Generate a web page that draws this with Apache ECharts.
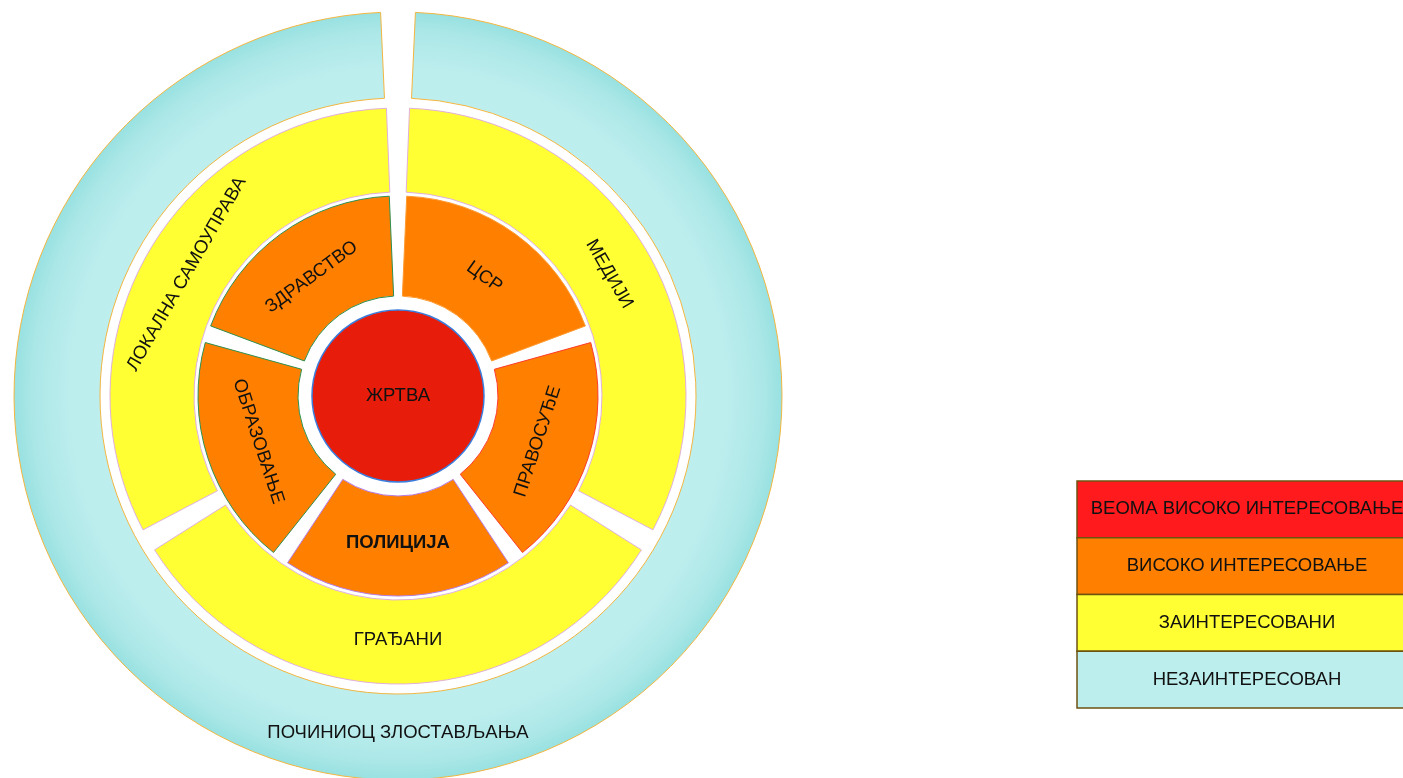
<!DOCTYPE html>
<html>
<head>
<meta charset="utf-8">
<script src="https://cdn.jsdelivr.net/npm/echarts@6/dist/echarts.min.js"></script>
<style>
  html, body { margin: 0; padding: 0; background: #ffffff; }
  #chart { width: 1403px; height: 778px; }
</style>
</head>
<body>
<div id="chart"></div>
<script>
// ---- data ----
const centerLabels = ['ЖРТВА'];
const centerValues = [1];
const innerRingLabels = ['ЦСР', 'ПРАВОСУЂЕ', 'ПОЛИЦИЈА', 'ОБРАЗОВАЊЕ', 'ЗДРАВСТВО'];
const innerRingValues = [1, 1, 1, 1, 1];
const middleRingLabels = ['МЕДИЈИ', 'ГРАЂАНИ', 'ЛОКАЛНА САМОУПРАВА'];
const middleRingValues = [1, 1, 1];
const outerRingLabels = ['ПОЧИНИОЦ ЗЛОСТАВЉАЊА'];
const outerRingValues = [1];
const legendLabels = ['ВЕОМА ВИСОКО ИНТЕРЕСОВАЊЕ', 'ВИСОКО ИНТЕРЕСОВАЊЕ', 'ЗАИНТЕРЕСОВАНИ', 'НЕЗАИНТЕРЕСОВАН'];

// ---- styles ----
const FONT = '"Liberation Sans", Arial, sans-serif';
const FS = 18.5;
const RED = '#e81c0a', ORANGE = '#ff8000', YELLOW = '#ffff33';
const legendColors = ['#ff1a1e', '#ff8000', '#ffff33', '#bdeeee'];
const innerBorders = ['#ff9a30', '#ff3a2a', '#b77ae0', '#2f8f4f', '#2f8f4f'];
const CX = 398, CY = 396;

const chart = echarts.init(document.getElementById('chart'), null, { renderer: 'canvas' });

const baseLabel = {
  show: true,
  position: 'inside',
  rotate: 'tangential',
  color: '#111111',
  fontFamily: FONT,
  fontSize: FS
};
const noLabel = { show: false };
const clear = { color: 'rgba(0,0,0,0)', borderWidth: 0 };

const cyanGradient = new echarts.graphic.RadialGradient(0.5, 0.5, 0.5, [
  { offset: 0, color: '#c2efef' },
  { offset: 0.85, color: '#bdeeee' },
  { offset: 0.95, color: '#ace7e7' },
  { offset: 1, color: '#98e1e1' }
]);

// legend built from arrays via graphic
const LX = 1077, LY = 481, LW = 340, LH = 56.75;
const legendGraphics = [];
legendLabels.forEach((t, i) => {
  legendGraphics.push({
    type: 'rect',
    shape: { x: LX, y: LY + i * LH, width: LW, height: LH },
    style: { fill: legendColors[i], stroke: '#6e5210', lineWidth: 1.5 },
    silent: true
  });
  legendGraphics.push({
    type: 'text',
    x: LX + LW / 2,
    y: LY + i * LH + LH / 2,
    style: {
      text: t,
      fill: '#111',
      font: FS + 'px ' + FONT,
      align: 'center',
      verticalAlign: 'middle'
    },
    silent: true
  });
});

function ring(name, radius, extra, labels, values, itemStyleFn, label) {
  return Object.assign({
    type: 'pie',
    name: name,
    center: [CX, CY],
    radius: radius,
    clockwise: true,
    silent: true,
    avoidLabelOverlap: false,
    labelLine: { show: false },
    label: label,
    data: labels.map((n, i) => {
      const d = { name: n, value: values[i] };
      if (itemStyleFn) d.itemStyle = itemStyleFn(i);
      if (n === 'ПОЛИЦИЈА' && label.show) d.label = { fontWeight: 'bold' };
      return d;
    })
  }, extra);
}

const outerAngles = { startAngle: 87.4, endAngle: -267.4 };
const middleAngles = { startAngle: 90, padAngle: 4.6 };
const innerAngles = { startAngle: 90, padAngle: 5 };

const option = {
  animation: false,
  backgroundColor: '#ffffff',
  graphic: legendGraphics,
  series: [
    // shapes
    ring('outer', [298, 384], outerAngles, outerRingLabels, outerRingValues,
      () => ({ color: cyanGradient, borderColor: '#f2b640', borderWidth: 1 }), noLabel),
    ring('middle', [204, 288], middleAngles, middleRingLabels, middleRingValues,
      () => ({ color: YELLOW, borderColor: '#e2b0d8', borderWidth: 1 }), noLabel),
    ring('inner', [100, 200], innerAngles, innerRingLabels, innerRingValues,
      (i) => ({ color: ORANGE, borderColor: innerBorders[i], borderWidth: 1 }), noLabel),
    ring('center', [0, 86], {}, centerLabels, centerValues,
      () => ({ color: RED, borderColor: '#3b7ddd', borderWidth: 1.5 }),
      Object.assign({}, baseLabel, { position: 'center', rotate: 0 })),
    // label layers (transparent)
    ring('outerLabels', [298, 370], outerAngles, outerRingLabels, outerRingValues,
      () => clear, Object.assign({}, baseLabel, { rotate: 0 })),
    ring('middleLabels', [204, 278], middleAngles, middleRingLabels, middleRingValues,
      () => clear, baseLabel),
    ring('innerLabels', [100, 188], innerAngles, innerRingLabels, innerRingValues,
      () => clear, baseLabel)
  ]
};

chart.setOption(option);
</script>
</body>
</html>
